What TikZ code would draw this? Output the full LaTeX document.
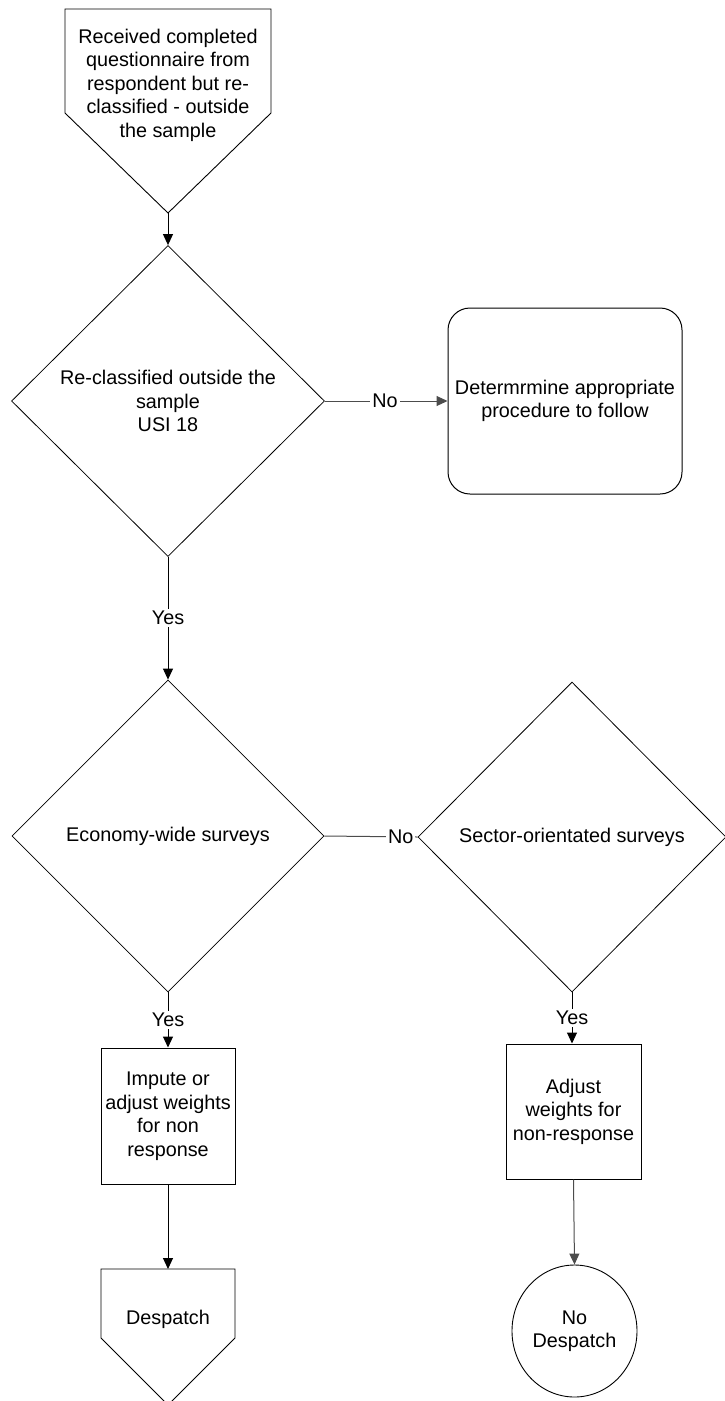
\documentclass[tikz,border=0pt]{standalone}
\usepackage{fontspec}
\setmainfont{Liberation Sans}
\usetikzlibrary{shapes.geometric,arrows.meta}
\begin{document}
\begin{tikzpicture}[x=1pt,y=-1pt,
  every node/.style={font=\fontsize{19.8pt}{23.5pt}\selectfont, align=center},
  outline/.style={draw=black, line width=0.9pt},
  decision/.style={diamond, draw=black, line width=0.8pt, inner sep=0pt, aspect=1},
  process/.style={rectangle, draw=black, line width=1pt, inner sep=0pt},
  link/.style={line width=1pt, -{Triangle[length=11pt,width=10pt]}},
  greylink/.style={link, draw=black!70},
  lbl/.style={fill=white, inner sep=2pt}]
\useasboundingbox (0,0) rectangle (724,1401);

% off-page connector at the top
\draw[outline] (65,9) -- (271,9) -- (271,113) -- (168,213) coordinate (recvtip)
  -- (65,113) -- cycle;
\node (recv) at (168,85) {Received completed\\questionnaire from\\respondent but re-\\classified - outside\\the sample};

% first decision and the alternative procedure
\node[decision, minimum width=313pt, minimum height=311pt] (d1) at (168,401)
  {Re-classified outside the\\sample\\USI 18};
\node[process, rounded corners=22pt, minimum width=234pt, minimum height=186pt] (proc) at (565,401)
  {Determrmine appropriate\\procedure to follow};

% survey type decisions
\node[decision, minimum width=312pt, minimum height=312pt] (econ) at (168,836)
  {Economy-wide surveys};
\node[decision, minimum width=308pt, minimum height=310pt] (sector) at (572,837)
  {Sector-orientated surveys};

% actions
\node[process, minimum width=134pt, minimum height=136pt] (impute) at (168,1116)
  {Impute or\\adjust weights\\for non\\response};
\node[process, minimum width=135pt, minimum height=135pt] (adjust) at (573.5,1111.5)
  {Adjust\\weights for\\non-response};

% end points
\draw[outline] (101,1269) -- (235,1269) -- (235,1338) -- (168,1405)
  -- (101,1338) -- cycle;
\coordinate (desptop) at (168,1269);
\node (desp) at (168,1319) {Despatch};
\node[ellipse, draw=black, line width=0.9pt, inner sep=0pt, minimum width=125pt, minimum height=132pt]
  (nodesp) at (574.5,1331) {No\\Despatch};

% connectors
\draw[link] (recvtip) -- (d1.north);
\draw[greylink] (d1.east) -- node[lbl, pos=0.49] {No} (proc.west);
\draw[link] (d1.south) -- node[lbl] {Yes} (econ.north);
\draw[line width=1pt, draw=black!70] (econ.east) -- node[lbl, pos=0.82] {No} (sector.west);
\draw[link] (econ.south) -- node[lbl] {Yes} (impute.north);
\draw[link] (sector.south) -- node[lbl] {Yes} (sector.south |- adjust.north);
\draw[link] (impute.south) -- (desptop);
\draw[greylink] (adjust.south) -- (nodesp.north);
\end{tikzpicture}
\end{document}
